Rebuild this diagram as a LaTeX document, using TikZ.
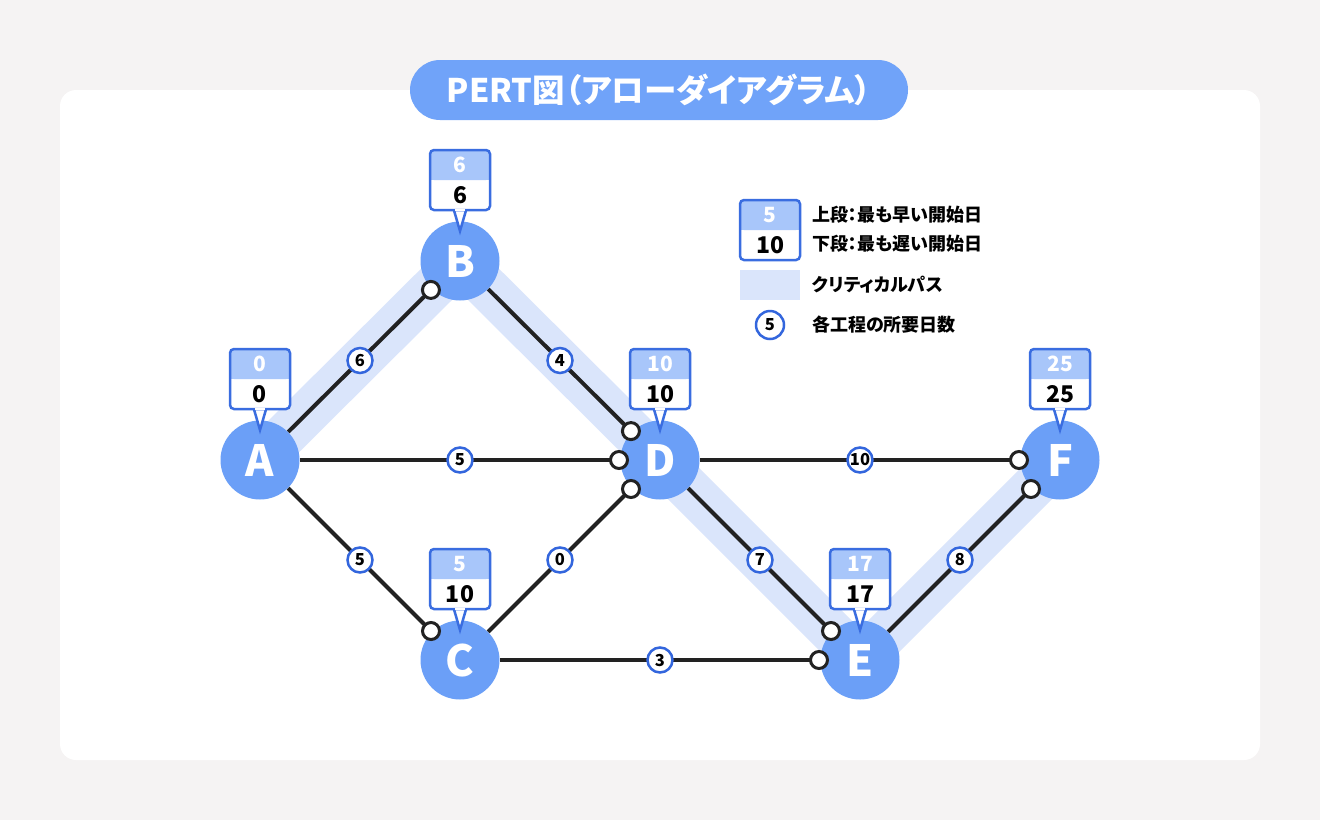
\documentclass[tikz,border=0pt]{standalone}
\usepackage{fontspec}
\setmainfont{Noto Sans CJK JP}
\newfontfamily\jpp{Noto Sans CJK JP}[RawFeature=+palt]
\usetikzlibrary{calc}
\pgfdeclarelayer{bgl}
\pgfdeclarelayer{bandl}
\pgfdeclarelayer{edgel}
\pgfsetlayers{bgl,bandl,edgel,main}
\definecolor{bgc}{HTML}{F5F3F3}
\definecolor{nodec}{HTML}{6B9FF7}
\definecolor{titlec}{HTML}{70A3F9}
\definecolor{cbordc}{HTML}{3A6DE0}
\definecolor{topc}{HTML}{A8C6FA}
\definecolor{bandc}{HTML}{DAE5FB}
\definecolor{lblc}{HTML}{3366DD}
\definecolor{linec}{HTML}{222222}
\newcommand\pertbox[3]{%
  \begin{scope}[shift={(#1)}]
    \draw[cbord, fill=white] (-7,-54) -- (0,-30) -- (7,-54);
    \fill[white, rounded corners=4pt] (-30,-111) rectangle (30,-51);
    \fill[topc, rounded corners=4pt] (-30,-111) rectangle (30,-81);
    \fill[topc] (-30,-86) rectangle (30,-81);
    \draw[cbord, rounded corners=4pt] (-30,-111) rectangle (30,-51);
    \fill[white] (-4.6,-52.3) rectangle (4.6,-49.7);
    \node[toptext] (#1top) at (0,-96) {#2};
    \node[bottext] (#1bot) at (0,-66) {#3};
  \end{scope}}
\begin{document}
\begin{tikzpicture}[x=1pt,y=-1pt,
  pnode/.style={circle, fill=nodec, minimum size=79pt, inner sep=0pt, text=white, font=\bfseries\fontsize{43}{43}\selectfont},
  pedge/.style={draw=linec, line width=4pt},
  elabel/.style={circle, draw=lblc, line width=2.5pt, fill=white, minimum size=25pt, inner sep=0pt, text=black, font=\bfseries\fontsize{16.5}{16.5}\selectfont},
  endc/.style={circle, draw=linec, line width=3pt, fill=white, minimum size=17pt, inner sep=0pt},
  cbord/.style={draw=cbordc, line width=2.5pt},
  toptext/.style={text=white, font=\bfseries\fontsize{21}{21}\selectfont, inner sep=0pt},
  bottext/.style={text=black, font=\bfseries\fontsize{23}{23}\selectfont, inner sep=0pt},
  legtext/.style={anchor=west, text=black, font=\jpp\bfseries\fontsize{18}{18}\selectfont, inner sep=0pt},
  cpband/.style={draw=bandc, line width=44pt, line join=miter}
]
\useasboundingbox (0,0) rectangle (1320,820);
\begin{pgfonlayer}{bgl}
  \fill[bgc] (0,0) rectangle (1320,820);
  \fill[white, rounded corners=16pt] (60,90) rectangle (1260,760);
\end{pgfonlayer}

\node[fill=titlec, rounded corners=30pt, minimum width=498pt, minimum height=60pt, inner sep=0pt, text=white, font=\jpp\bfseries\fontsize{32.5}{32.5}\selectfont] (title) at (659,90) {PERT図（アローダイアグラム）};

% nodes
\node[pnode] (A) at (260,460) {A};
\node[pnode] (B) at (460,261) {B};
\node[pnode] (C) at (460,660) {C};
\node[pnode] (D) at (660,460) {D};
\node[pnode] (E) at (860,660) {E};
\node[pnode] (F) at (1060,460) {F};

% critical path band
\begin{pgfonlayer}{bandl}
  \draw[cpband] (A.center) -- (B.center) -- (D.center) -- (E.center) -- (F.center);
\end{pgfonlayer}

% edges
\begin{pgfonlayer}{edgel}
  \draw[pedge] (A) -- node[elabel] (lAB) {6} (B);
  \draw[pedge] (B) -- node[elabel] (lBD) {4} (D);
  \draw[pedge] (A) -- node[elabel] (lAD) {5} (D);
  \draw[pedge] (A) -- node[elabel] (lAC) {5} (C);
  \draw[pedge] (C) -- node[elabel] (lCD) {0} (D);
  \draw[pedge] (D) -- node[elabel] (lDF) {10} (F);
  \draw[pedge] (D) -- node[elabel] (lDE) {7} (E);
  \draw[pedge] (C) -- node[elabel] (lCE) {3} (E);
  \draw[pedge] (E) -- node[elabel] (lEF) {8} (F);
\end{pgfonlayer}

% arrival circles
\node[endc] (eAB) at ($(B)!41pt!(A)$) {};
\node[endc] (eBD) at ($(D)!41pt!(B)$) {};
\node[endc] (eAD) at ($(D)!41pt!(A)$) {};
\node[endc] (eAC) at ($(C)!41pt!(A)$) {};
\node[endc] (eCD) at ($(D)!41pt!(C)$) {};
\node[endc] (eDF) at ($(F)!41pt!(D)$) {};
\node[endc] (eDE) at ($(E)!41pt!(D)$) {};
\node[endc] (eCE) at ($(E)!41pt!(C)$) {};
\node[endc] (eEF) at ($(F)!41pt!(E)$) {};

% callouts
\pertbox{A}{0}{0}
\pertbox{B}{6}{6}
\pertbox{C}{5}{10}
\pertbox{D}{10}{10}
\pertbox{E}{17}{17}
\pertbox{F}{25}{25}

% legend
\fill[white, rounded corners=4pt] (740,200) rectangle (800,260);
\fill[topc, rounded corners=4pt] (740,200) rectangle (800,230);
\fill[topc] (740,225) rectangle (800,230);
\draw[cbord, rounded corners=4pt] (740,200) rectangle (800,260);
\node[toptext] (legtop) at (770,215) {5};
\node[bottext] (legbot) at (770,245) {10};
\node[legtext] (leg1) at (812,215) {上段：最も早い開始日};
\node[legtext] (leg2) at (812,244) {下段：最も遅い開始日};
\fill[bandc] (740,270) rectangle (800,300);
\node[legtext] (leg3) at (812,285) {クリティカルパス};
\node[elabel, minimum size=28pt] (legc) at (770,325) {5};
\node[legtext] (leg4) at (812,325) {各工程の所要日数};
\end{tikzpicture}
\end{document}
